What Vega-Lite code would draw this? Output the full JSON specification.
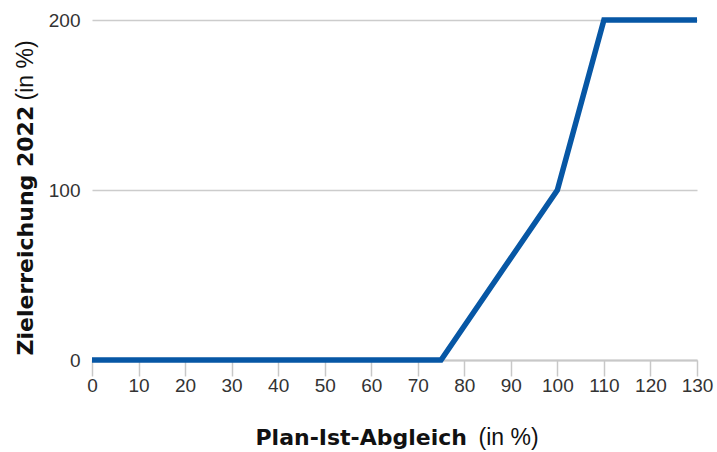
{
  "$schema": "https://vega.github.io/schema/vega-lite/v6.json",
  "width": 605,
  "height": 340,
  "autosize": {"type": "none"},
  "padding": {"left": 92, "top": 20, "right": 20, "bottom": 92},
  "background": "white",
  "config": {
    "view": {"stroke": null},
    "font": "Liberation Sans"
  },
  "data": {
    "values": [
      {"plan": 0, "ziel": 0},
      {"plan": 75, "ziel": 0},
      {"plan": 100, "ziel": 100},
      {"plan": 110, "ziel": 200},
      {"plan": 130, "ziel": 200}
    ]
  },
  "resolve": {"axis": {"x": "independent", "y": "independent"}},
  "layer": [
    {
      "mark": {"type": "line", "color": "#0757a5", "strokeWidth": 5.5, "strokeJoin": "miter", "strokeCap": "butt", "clip": false},
      "encoding": {
        "x": {
          "field": "plan", "type": "quantitative",
          "scale": {"domain": [0, 130], "nice": false},
          "axis": {
            "orient": "bottom",
            "values": [0, 10, 20, 30, 40, 50, 60, 70, 80, 90, 100, 110, 120, 130],
            "grid": false,
            "domainColor": "#c8c8c8", "domainWidth": 2,
            "tickColor": "#c8c8c8", "tickSize": 16, "tickWidth": 1.5,
            "labelFont": "Liberation Sans", "labelFontSize": 19, "labelColor": "#333333",
            "labelPadding": 0, "labelFlush": false,
            "title": "Plan-Ist-Abgleich",
            "titleFont": "DejaVu Sans", "titleFontSize": 22, "titleFontWeight": "bold", "titleColor": "#111111",
            "titleX": 163, "titleY": 84, "titleAlign": "left", "titleBaseline": "alphabetic", "titleAnchor": null
          }
        },
        "y": {
          "field": "ziel", "type": "quantitative",
          "scale": {"domain": [0, 200], "nice": false},
          "axis": {
            "orient": "left",
            "values": [0, 100, 200],
            "grid": true, "gridColor": "#cccccc", "gridWidth": 1.5,
            "domain": false, "ticks": false,
            "labelFont": "Liberation Sans", "labelFontSize": 19, "labelColor": "#333333",
            "labelPadding": 12,
            "title": "Zielerreichung 2022",
            "titleFont": "DejaVu Sans", "titleFontSize": 22, "titleFontWeight": "bold", "titleColor": "#111111",
            "titleAngle": 270,
            "titleX": -60, "titleY": 335, "titleAlign": "left", "titleBaseline": "alphabetic", "titleAnchor": null
          }
        }
      }
    },
    {
      "mark": {"type": "line", "opacity": 0},
      "encoding": {
        "x": {
          "field": "plan", "type": "quantitative",
          "axis": {
            "orient": "bottom", "domain": false, "ticks": false, "labels": false, "grid": false,
            "title": "(in %)",
            "titleFont": "Liberation Sans", "titleFontSize": 23, "titleFontWeight": "normal", "titleColor": "#111111",
            "titleX": 386, "titleY": 84, "titleAlign": "left", "titleBaseline": "alphabetic", "titleAnchor": null
          }
        },
        "y": {
          "field": "ziel", "type": "quantitative",
          "axis": {
            "orient": "left", "domain": false, "ticks": false, "labels": false, "grid": false,
            "title": "(in %)",
            "titleFont": "Liberation Sans", "titleFontSize": 23, "titleFontWeight": "normal", "titleColor": "#111111",
            "titleAngle": 270,
            "titleX": -60, "titleY": 80, "titleAlign": "left", "titleBaseline": "alphabetic", "titleAnchor": null
          }
        }
      }
    }
  ]
}
